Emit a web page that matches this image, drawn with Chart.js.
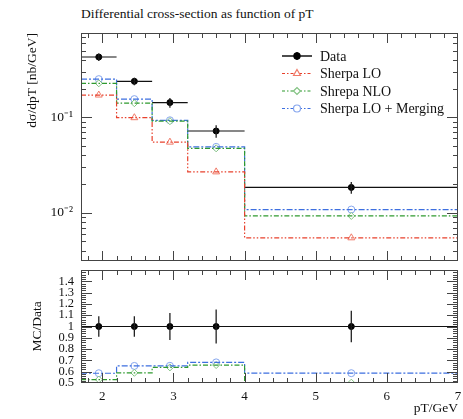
<!DOCTYPE html>
<html>
<head>
<meta charset="utf-8">
<script src="https://cdn.jsdelivr.net/npm/chart.js@4.4.0/dist/chart.umd.min.js"></script>
<style>
  body { margin: 0; background: #fff; width: 463px; height: 419px; position: relative; overflow: hidden; font-family: "Liberation Serif", serif; }
  #title { position: absolute; left: 81px; top: 6px; font-size: 13.5px; color: #111; white-space: nowrap; }
  #top { position: absolute; left: 0; top: 0; }
  #bot { position: absolute; left: 0; top: 265px; }
</style>
</head>
<body>
<div id="title">Differential cross-section as function of pT</div>
<canvas id="top" width="463" height="266"></canvas>
<canvas id="bot" width="463" height="154"></canvas>
<script>
// DATA
const binEdges = [1.7, 2.2, 2.7, 3.2, 4.0, 7.0];
const binCenters = [1.95, 2.45, 2.95, 3.6, 5.5];
const dataValues = [0.428, 0.238, 0.1426, 0.0718, 0.0184];
const dataRelErr = [0.09, 0.09, 0.12, 0.15, 0.14];
const sherpaLO = [0.171, 0.099, 0.0549, 0.0268, 0.00546];
const sherpaNLO = [0.227, 0.1405, 0.091, 0.0473, 0.00925];
const sherpaMerging = [0.251, 0.155, 0.093, 0.049, 0.0108];
const seriesNames = ["Data", "Sherpa LO", "Shrepa NLO", "Sherpa LO + Merging"];
const xTicks = [2, 3, 4, 5, 6, 7];
const logTicks = [0.01, 0.1];
const ratioTicks = [0.5, 0.6, 0.7, 0.8, 0.9, 1, 1.1, 1.2, 1.3, 1.4];

// STYLES
const RED = "#e8412c", GREEN = "#2f9a2f", BLUE = "#3d6fe0";
const RED_M = "#f07a68", GREEN_M = "#82c282", BLUE_M = "#86a6ee";
const FONT = "Liberation Serif";

const ratio = arr => arr.map((v, i) => v / dataValues[i]);

// histogram steps (horizontal at each bin value)
function steps(vals) {
  return binEdges.map((x, i) => ({ x: x, y: vals[Math.min(i, vals.length - 1)] }));
}
function markers(vals) {
  return binCenters.map((x, i) => ({ x: x, y: vals[i] }));
}
function xBars(vals) {
  const out = [];
  vals.forEach((v, i) => {
    out.push({ x: binEdges[i], y: v }, { x: binEdges[i + 1], y: v }, { x: binEdges[i + 1], y: null });
  });
  return out;
}
function yBars(vals, rel) {
  const out = [];
  vals.forEach((v, i) => {
    const e = rel[i] * v;
    out.push({ x: binCenters[i], y: v - e }, { x: binCenters[i], y: v + e }, { x: binCenters[i], y: null });
  });
  return out;
}

function datasetsFor(d, lo, nlo, mrg, dErr) {
  return [
    { data: steps(lo), borderColor: RED, borderWidth: 1.2, borderDash: [5, 2, 1.5, 2, 1.5, 2], stepped: true, pointRadius: 0 },
    { data: steps(nlo), borderColor: GREEN, borderWidth: 1.2, borderDash: [5, 2, 1.5, 2], stepped: true, pointRadius: 0 },
    { data: steps(mrg), borderColor: BLUE, borderWidth: 1.2, borderDash: [6, 2, 2, 2], stepped: true, pointRadius: 0 },
    { data: markers(lo), showLine: false, pointStyle: "triangle", pointRadius: 4, pointBackgroundColor: "#fff", pointBorderColor: RED_M, pointBorderWidth: 1 },
    { data: markers(nlo), showLine: false, pointStyle: "rectRot", pointRadius: 3.5, pointBackgroundColor: "#fff", pointBorderColor: GREEN_M, pointBorderWidth: 1 },
    { data: markers(mrg), showLine: false, pointStyle: "circle", pointRadius: 3.5, pointBackgroundColor: "#fff", pointBorderColor: BLUE_M, pointBorderWidth: 1 },
    { data: xBars(d), borderColor: "#111", borderWidth: 1.2, pointRadius: 0, spanGaps: false },
    { data: yBars(d, dErr), borderColor: "#222", borderWidth: 1.3, pointRadius: 0, spanGaps: false },
    { data: markers(d), showLine: false, pointStyle: "circle", pointRadius: 3, pointBackgroundColor: "#000", pointBorderColor: "#000" }
  ];
}

// tick positions for the frame
const xMajor = [2, 3, 4, 5, 6, 7];
const xMinor = [];
for (let v = 1.8; v < 7; v += 0.2) xMinor.push(+v.toFixed(2));
const logMinor = [];
for (let e = -3; e <= 0; e++) for (let m = 2; m <= 9; m++) logMinor.push(m * Math.pow(10, e));
const ratioMinor = [];
for (let v = 0.5; v < 1.5; v += 0.02) ratioMinor.push(+v.toFixed(2));

// no extra padding for edge labels, so both panels line up
function noPad(s) {
  s.paddingTop = 0; s.paddingBottom = 0; s.paddingLeft = 0; s.paddingRight = 0;
}

// FRAME + INWARD TICKS
const frameTicks = {
  id: "frameTicks",
  afterDatasetsDraw(chart, args, opts) {
    const { ctx, chartArea: a, scales } = chart;
    ctx.save();
    ctx.strokeStyle = "#444";
    ctx.lineWidth = 1;
    ctx.strokeRect(a.left + 0.5, a.top + 0.5, a.right - a.left - 1, a.bottom - a.top - 1);
    ctx.beginPath();
    const xt = (vals, len) => vals.forEach(v => {
      const p = Math.round(scales.x.getPixelForValue(v)) + 0.5;
      if (p < a.left || p > a.right) return;
      ctx.moveTo(p, a.top); ctx.lineTo(p, a.top + len);
      ctx.moveTo(p, a.bottom); ctx.lineTo(p, a.bottom - len);
    });
    const yt = (vals, len) => vals.forEach(v => {
      const p = Math.round(scales.y.getPixelForValue(v)) + 0.5;
      if (p < a.top || p > a.bottom) return;
      ctx.moveTo(a.left, p); ctx.lineTo(a.left + len, p);
      ctx.moveTo(a.right, p); ctx.lineTo(a.right - len, p);
    });
    xt(opts.xMinor, 5); xt(opts.xMajor, 10);
    yt(opts.yMinor, 5); yt(opts.yMajor, 11);
    ctx.stroke();
    ctx.restore();
  }
};

// LEGEND (inside top panel)
const legendBox = {
  id: "legendBox",
  afterDraw(chart) {
    const ctx = chart.ctx;
    const rows = [
      { color: "#000", dash: [], style: "circle", fill: "#000", mcolor: "#000", r: 3 },
      { color: RED, dash: [3, 2, 1.5, 2], style: "triangle", fill: "#fff", mcolor: RED_M, r: 4 },
      { color: GREEN, dash: [3, 2, 1.5, 2], style: "rectRot", fill: "#fff", mcolor: GREEN_M, r: 3.5 },
      { color: BLUE, dash: [3, 2, 1.5, 2], style: "circle", fill: "#fff", mcolor: BLUE_M, r: 3.5 }
    ];
    ctx.save();
    rows.forEach((r, i) => {
      const y = 56 + i * 17.5;
      ctx.strokeStyle = r.color;
      ctx.lineWidth = i === 0 ? 1.4 : 1.2;
      ctx.setLineDash(r.dash);
      ctx.beginPath(); ctx.moveTo(282, y); ctx.lineTo(312, y); ctx.stroke();
      ctx.setLineDash([]);
      if (i === 0) {
        ctx.beginPath(); ctx.moveTo(297, y - 4); ctx.lineTo(297, y + 4); ctx.stroke();
      }
      ctx.fillStyle = r.fill;
      ctx.strokeStyle = r.mcolor;
      Chart.helpers.drawPoint(ctx, { pointStyle: r.style, radius: r.r, rotation: 0, borderWidth: 1 }, 297, y);
      ctx.fillStyle = "#111";
      ctx.font = "14px " + FONT;
      ctx.textBaseline = "middle";
      ctx.fillText(seriesNames[i], 320, y + 1);
    });
    ctx.restore();
  }
};

const sup = { "-": "\u207b", "1": "\u00b9", "2": "\u00b2", "3": "\u00b3" };

// TOP PANEL
new Chart(document.getElementById("top"), {
  type: "line",
  data: { datasets: datasetsFor(dataValues, sherpaLO, sherpaNLO, sherpaMerging, dataRelErr) },
  options: {
    responsive: false,
    animation: false,
    layout: { padding: { top: 33, right: 3, left: 0, bottom: 0 } },
    plugins: {
      legend: { display: false },
      tooltip: { enabled: false },
      frameTicks: { xMajor: xMajor, xMinor: xMinor, yMajor: logTicks, yMinor: logMinor }
    },
    scales: {
      x: { type: "linear", min: 1.7, max: 7, display: false },
      y: {
        type: "logarithmic", min: 0.00312, max: 0.764,
        afterFit: s => { s.width = 81; noPad(s); },
        afterBuildTicks: s => { s.ticks = logTicks.map(v => ({ value: v })); },
        grid: { display: false, drawTicks: false },
        border: { display: false },
        ticks: {
          padding: 8, color: "#111", autoSkip: false, font: { family: FONT, size: 13.5 },
          callback: v => "10" + String(Math.round(Math.log10(v))).split("").map(c => sup[c]).join("")
        },
        title: {
          display: true, text: "d\u03c3/dpT [nb/GeV]", align: "end", color: "#111",
          font: { family: FONT, size: 13.5 }, padding: { top: 24, bottom: 0 }
        }
      }
    }
  },
  plugins: [frameTicks, legendBox]
});

// RATIO PANEL
new Chart(document.getElementById("bot"), {
  type: "line",
  data: {
    datasets: datasetsFor(ratio(dataValues), ratio(sherpaLO), ratio(sherpaNLO), ratio(sherpaMerging), dataRelErr)
  },
  options: {
    responsive: false,
    animation: false,
    layout: { padding: { top: 0, right: 3, left: 0, bottom: 0 } },
    plugins: {
      legend: { display: false },
      tooltip: { enabled: false },
      frameTicks: { xMajor: xMajor, xMinor: xMinor, yMajor: ratioTicks, yMinor: ratioMinor }
    },
    scales: {
      x: {
        type: "linear", min: 1.7, max: 7,
        afterFit: s => { s.height = 36; noPad(s); },
        afterBuildTicks: s => { s.ticks = xTicks.map(v => ({ value: v })); },
        grid: { display: false, drawTicks: false },
        border: { display: false },
        ticks: { padding: 6, color: "#111", autoSkip: false, maxRotation: 0, font: { family: FONT, size: 13 } },
        title: {
          display: true, text: "pT/GeV", align: "end", color: "#111",
          font: { family: FONT, size: 13.5 }, padding: { top: 0, bottom: 2 }
        }
      },
      y: {
        type: "linear", min: 0.5, max: 1.5,
        afterFit: s => { s.width = 81; noPad(s); },
        afterBuildTicks: s => { s.ticks = ratioTicks.map(v => ({ value: v })); },
        grid: { display: false, drawTicks: false },
        border: { display: false },
        ticks: {
          padding: 7, color: "#111", autoSkip: false, font: { family: FONT, size: 12.5 },
          callback: v => String(+v.toFixed(1))
        },
        title: {
          display: true, text: "MC/Data", color: "#111",
          font: { family: FONT, size: 13.5 }, padding: { top: 29, bottom: 0 }
        }
      }
    }
  },
  plugins: [frameTicks]
});
</script>
</body>
</html>
